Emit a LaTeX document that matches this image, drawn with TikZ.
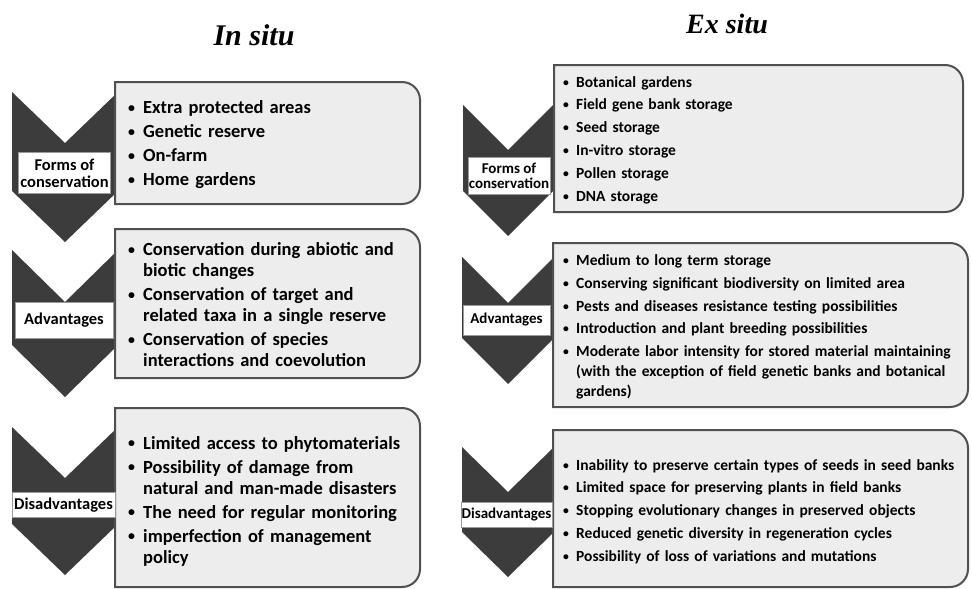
\documentclass[tikz,border=0pt]{standalone}
\usepackage{fontspec}
\setmainfont{Carlito}
\newfontfamily\titlefont{Liberation Serif}
\definecolor{chevgray}{HTML}{3C3C3C}
\definecolor{boxfill}{HTML}{EDEDED}
\definecolor{boxline}{HTML}{505050}
\definecolor{lablinecol}{HTML}{9A9A9A}
\newlength\bind
\newcommand{\bitem}[1]{\par\hangindent=\bind\hangafter=1\noindent\makebox[\bind][l]{\raisebox{0.06em}{\scalebox{0.75}{\textbullet}}}#1}
% chevron: x, ytop, width, depth, height
\newcommand{\chevshape}[5]{%
  \fill[chevgray] (#1,#2) -- ++(#3/2,#4) -- ++(#3/2,-#4) -- ++(0,#5) -- ++(-#3/2,#4) -- ++(-#3/2,-#4) -- cycle;}
% box with rounded right corners: x1,y1,x2,y2
\newcommand{\rbox}[4]{%
  \filldraw[boxstyle] (#1,#2) -- (#3-18,#2) .. controls (#3-8,#2) and (#3,#2+8) .. (#3,#2+18)
    -- (#3,#4-18) .. controls (#3,#4-8) and (#3-8,#4) .. (#3-18,#4) -- (#1,#4) -- cycle;}
\tikzset{
  boxstyle/.style={fill=boxfill, draw=boxline, line width=2pt},
  lablarge/.style={fill=white, draw=lablinecol, line width=0.6pt, inner sep=0pt, align=center,
    font=\bfseries\fontsize{16.5}{17}\selectfont},
  labsmall/.style={fill=white, draw=lablinecol, line width=0.6pt, inner sep=0pt, align=center,
    font=\bfseries\fontsize{15}{15.5}\selectfont},
  leftlist/.style={anchor=west, inner sep=0pt, text width=290pt, align=left,
    font=\bfseries\fontsize{18.5}{21}\selectfont\setlength\parskip{3pt}\setlength\bind{15pt}},
  rightlist/.style={anchor=west, inner sep=0pt, text width=400pt, align=left,
    font=\bfseries\fontsize{15.5}{20}\selectfont\setlength\parskip{2.8pt}\setlength\bind{13pt}},
  titletext/.style={inner sep=0pt, font=\titlefont\bfseries\itshape\fontsize{30}{30}\selectfont}
}
\begin{document}
\begin{tikzpicture}[x=1pt,y=-1pt]
\useasboundingbox (0,0) rectangle (972,589);

% titles
\node[titletext, anchor=base] (t1) at (254,45) {In situ};
\node[titletext, anchor=base, font=\titlefont\bfseries\itshape\fontsize{28}{28}\selectfont] (t2) at (727,33) {Ex situ};

% left chevrons
\chevshape{12}{92}{106}{51}{99}
\chevshape{12}{250}{106}{52}{95}
\chevshape{12}{427}{106}{51}{97}
% right chevrons
\chevshape{463}{105}{90}{45}{86}
\chevshape{462}{257}{92}{46}{81}
\chevshape{462}{447}{92}{45}{85}

% boxes
\rbox{115}{82}{420}{204}
\rbox{115}{229}{420}{378}
\rbox{115}{408}{420}{587}
\rbox{554}{65}{963}{212}
\rbox{553}{243}{968}{407}
\rbox{553}{430}{968}{587}

% labels
\node[lablarge, minimum width=92pt, minimum height=41pt] (l1) at (64.5,173) {Forms of\\conservation};
\node[lablarge, minimum width=98pt, minimum height=36pt] (l2) at (64,320) {Advantages};
\node[lablarge, minimum width=103pt, minimum height=25pt] (l3) at (63.5,505) {Disadvantages};
\node[labsmall, minimum width=82pt, minimum height=37pt] (r1) at (509,176) {Forms of\\conservation};
\node[labsmall, minimum width=87pt, minimum height=30pt] (r2) at (506.5,320) {Advantages};
\node[labsmall, minimum width=91pt, minimum height=25pt] (r3) at (506.5,514.5) {Disadvantages};

% left lists
\node[leftlist] (lt1) at (128,139) {%
\bitem{Extra protected areas}
\bitem{Genetic reserve}
\bitem{On-farm}
\bitem{Home gardens}\par};
\node[leftlist] (lt2) at (128,299) {%
\bitem{Conservation during abiotic and\newline biotic changes}
\bitem{Conservation of target and\newline related taxa in a single reserve}
\bitem{Conservation of species\newline interactions and coevolution}\par};
\node[leftlist] (lt3) at (128,495.5) {%
\bitem{Limited access to phytomaterials}
\bitem{Possibility of damage from\newline natural and man-made disasters}
\bitem{The need for regular monitoring}
\bitem{imperfection of management\newline policy}\par};

% right lists
\node[rightlist] (rt1) at (563,134) {%
\bitem{Botanical gardens}
\bitem{Field gene bank storage}
\bitem{Seed storage}
\bitem{In-vitro storage}
\bitem{Pollen storage}
\bitem{DNA storage}\par};
\node[rightlist] (rt2) at (563,321) {%
\bitem{Medium to long term storage}
\bitem{Conserving significant biodiversity on limited area}
\bitem{Pests and diseases resistance testing possibilities}
\bitem{Introduction and plant breeding possibilities}
\bitem{Moderate labor intensity for stored material maintaining\newline (with the exception of field genetic banks and botanical\newline gardens)}\par};
\node[rightlist] (rt3) at (563,505.5) {%
\bitem{Inability to preserve certain types of seeds in seed banks}
\bitem{Limited space for preserving plants in field banks}
\bitem{Stopping evolutionary changes in preserved objects}
\bitem{Reduced genetic diversity in regeneration cycles}
\bitem{Possibility of loss of variations and mutations}\par};
\end{tikzpicture}
\end{document}
